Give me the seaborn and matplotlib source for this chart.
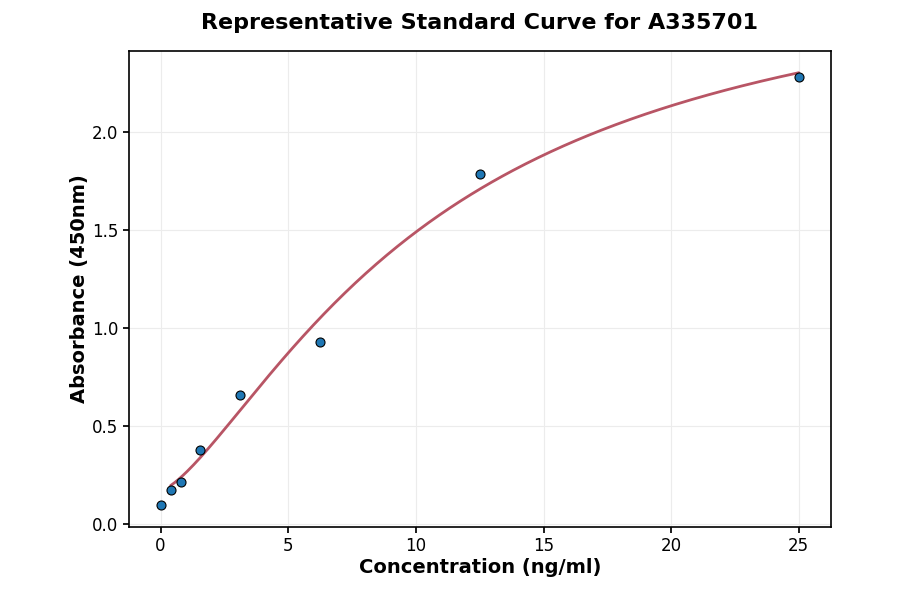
import numpy as np
import pandas as pd
import matplotlib
matplotlib.use("Agg")
import matplotlib.pyplot as plt
import seaborn as sns

concentration = [0.0, 0.39, 0.78, 1.56, 3.125, 6.25, 12.5, 25.0]
absorbance = [0.095, 0.172, 0.215, 0.375, 0.655, 0.93, 1.785, 2.28]

title = "Representative Standard Curve for A335701"
xlabel = "Concentration (ng/ml)"
ylabel = "Absorbance (450nm)"

df = pd.DataFrame({"x": concentration, "y": absorbance})

# 4-parameter logistic fit (grid search over b, c; linear LS for a, d)
xf = np.array(concentration[1:])
yf = np.array(absorbance[1:])
best = None
for b in np.linspace(0.5, 3.0, 126):
    for c in np.linspace(2, 40, 381):
        g = 1.0 / (1.0 + (xf / c) ** b)
        A = np.column_stack([g, 1 - g])
        coef, res, *_ = np.linalg.lstsq(A, yf, rcond=None)
        r = np.sum((A @ coef - yf) ** 2)
        if best is None or r < best[0]:
            best = (r, b, c, coef[0], coef[1])
_, b4, c4, a4, d4 = best
xs = np.linspace(min(xf), max(xf), 300)
ys = d4 + (a4 - d4) / (1 + (xs / c4) ** b4)
curve = pd.DataFrame({"x": xs, "y": ys})

sns.set_theme(style="whitegrid")
plt.rcParams["font.family"] = ["DejaVu Sans"]
plt.rcParams["text.color"] = "black"
plt.rcParams["axes.labelcolor"] = "black"
plt.rcParams["xtick.color"] = "black"
plt.rcParams["ytick.color"] = "black"
fig, ax = plt.subplots(figsize=(9, 5.94), dpi=100)
sns.lineplot(data=curve, x="x", y="y", ax=ax, color="#b85565", linewidth=2, zorder=2)
sns.scatterplot(data=df, x="x", y="y", ax=ax, color="#1f77b4", edgecolor="black",
                linewidth=0.8, s=42, zorder=3)
ax.set_title(title, fontsize=16, fontweight="bold", pad=16, color="black")
ax.set_xlabel(xlabel, fontsize=14, fontweight="bold", color="black", labelpad=2)
ax.set_ylabel(ylabel, fontsize=14, fontweight="bold", color="black", labelpad=2)
ax.set_xticks([0, 5, 10, 15, 20, 25])
ax.set_yticks([0.0, 0.5, 1.0, 1.5, 2.0])
ax.tick_params(axis="both", labelsize=12, length=4, color="black", labelcolor="black",
               left=True, bottom=True)
ax.grid(True, color="#ececec", linewidth=0.8)
for s in ax.spines.values():
    s.set_color("black")
    s.set_linewidth(1.2)
ax.set_facecolor("white")
fig.subplots_adjust(left=0.143, right=0.923, top=0.914, bottom=0.113)
fig.savefig("out.png", dpi=100)
